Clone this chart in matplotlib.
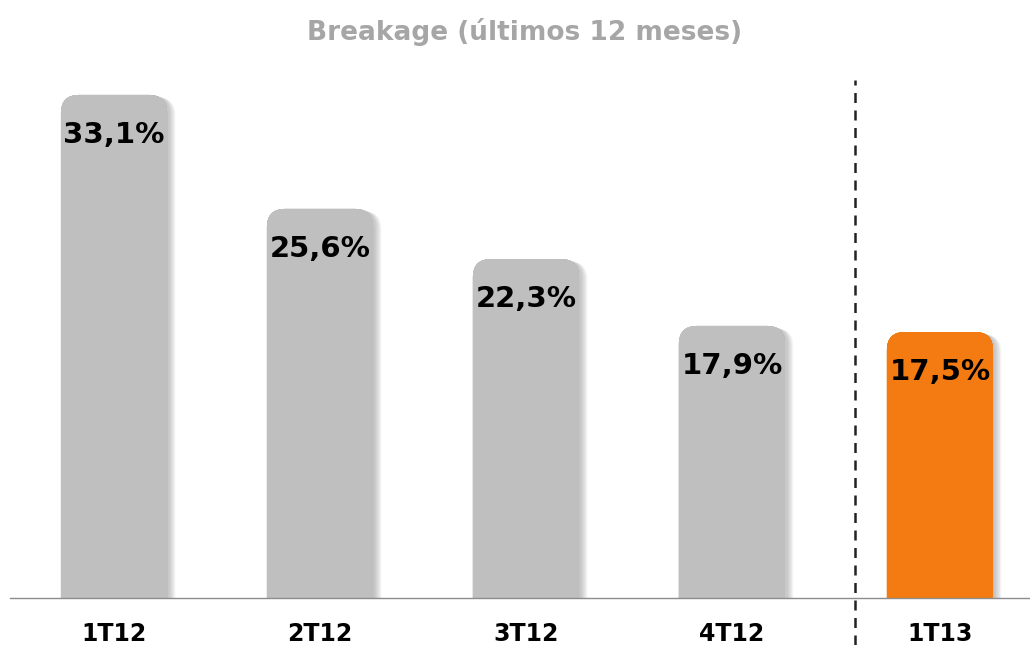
import matplotlib
matplotlib.use('Agg')
import matplotlib.pyplot as plt
import matplotlib.patheffects as pe
from matplotlib.patches import FancyBboxPatch
from matplotlib.transforms import blended_transform_factory

# data
periods = ['1T12', '2T12', '3T12', '4T12', '1T13']
breakage = [33.1, 25.6, 22.3, 17.9, 17.5]
labels = ['33,1%', '25,6%', '22,3%', '17,9%', '17,5%']
bar_colors = ['#bfbfbf', '#bfbfbf', '#bfbfbf', '#bfbfbf', '#f47a12']
xpos = [0, 1, 2, 3, 4.01]

fig = plt.figure(figsize=(10.3, 6.45), dpi=100)
ax = fig.add_axes([10 / 1030, 47 / 645, 1020 / 1030, 538 / 645])
ax.set_xlim(-0.505, 4.447)
ax.set_ylim(0, 35.4)

bars = ax.bar(xpos, breakage, width=0.515, color=bar_colors)

# soft shadow on the right side, built from a few faint offset copies
shadow = [pe.withSimplePatchShadow(offset=(d, -d * 0.3), shadow_rgbFace='#555555', alpha=0.07)
          for d in (6, 5, 4, 3, 2)]

# swap the flat bars for ones with rounded top corners
px_x = 206.0
px_y = 538 / 35.4
for b, c in zip(bars, bar_colors):
    x0, w, h = b.get_x(), b.get_width(), b.get_height()
    b.remove()
    r = 18 / px_x
    p = FancyBboxPatch((x0, -3), w, h + 3,
                       boxstyle='round,pad=0,rounding_size=%f' % r,
                       mutation_aspect=px_x / px_y,
                       facecolor=c, edgecolor='none', zorder=2)
    p.set_path_effects(shadow + [pe.Normal()])
    ax.add_patch(p)

for x, v, t in zip(xpos, breakage, labels):
    ax.annotate(t, (x, v), xytext=(0, -40), textcoords='offset pixels',
                ha='center', va='center', fontsize=21, fontweight='bold',
                color='black', zorder=3)

# separator between 2012 and 2013
trans = blended_transform_factory(ax.transData, ax.transAxes)
ax.plot([3.597, 3.597], [-47 / 538, (645 - 80 - 47) / 538], transform=trans,
        color='#222222', lw=1.8, ls=(0, (4, 3)), clip_on=False, zorder=1)

ax.set_xticks(xpos)
ax.set_xticklabels(periods, fontsize=17, fontweight='heavy')
ax.tick_params(axis='x', length=0, pad=17)
ax.set_yticks([])
for s in ['top', 'right', 'left']:
    ax.spines[s].set_visible(False)
ax.spines['bottom'].set_color('#8c8c8c')
ax.spines['bottom'].set_linewidth(1.0)
ax.spines['bottom'].set_zorder(4)

fig.text(525 / 1030, 1 - 32 / 645, 'Breakage (últimos 12 meses)', ha='center', va='center',
         fontsize=19, fontweight='bold', color='#a6a6a6')

fig.savefig('out.png', dpi=100)
